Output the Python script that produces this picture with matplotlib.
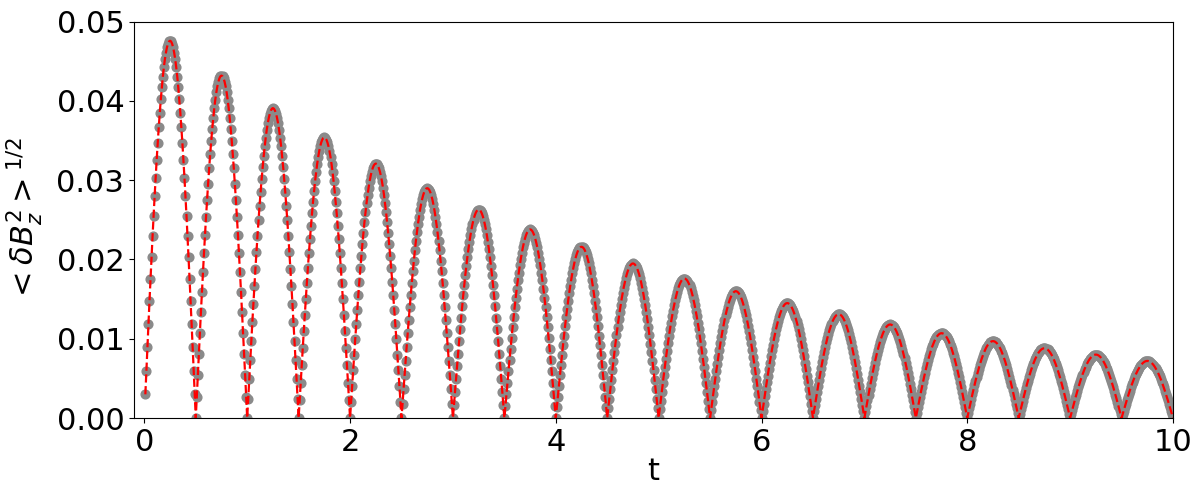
import numpy as np
import matplotlib
matplotlib.use('Agg')
import matplotlib.pyplot as plt

# peak value of each half-period arch (t = 0.25, 0.75, ..., 9.75)
peaks = [0.0476, 0.0432, 0.0391, 0.0354, 0.0321, 0.0290, 0.0263, 0.0238, 0.0216, 0.0195,
         0.0176, 0.0160, 0.0145, 0.0131, 0.0118, 0.0107, 0.0097, 0.0088, 0.0080, 0.0072]
period = 1.0
dt = 0.01

t = np.arange(1, 1001) * dt
arch = np.minimum((t // (period / 2)).astype(int), len(peaks) - 1)
b = np.array(peaks)[arch] * np.abs(np.sin(2 * np.pi * t / period))

fig = plt.figure(figsize=(12, 4.99), dpi=100)
ax = fig.add_axes([0.1117, 0.1623, 0.8658, 0.7942])

ax.plot(t, b, 'o', color='#8a8a8a', markersize=6.3)
ax.plot(t, b, '--', color='red', linewidth=1.6)

ax.set_xlim(-0.1, 10)
ax.set_ylim(0, 0.05)
ax.set_xticks([0, 2, 4, 6, 8, 10])
ax.set_yticks([0.0, 0.01, 0.02, 0.03, 0.04, 0.05])
ax.tick_params(labelsize=22)
ax.set_xlabel('t', fontsize=22, labelpad=0)
ax.set_ylabel(r'$<\delta B_z^2>^{1/2}$', fontsize=22, labelpad=8)

fig.savefig('out.png')
